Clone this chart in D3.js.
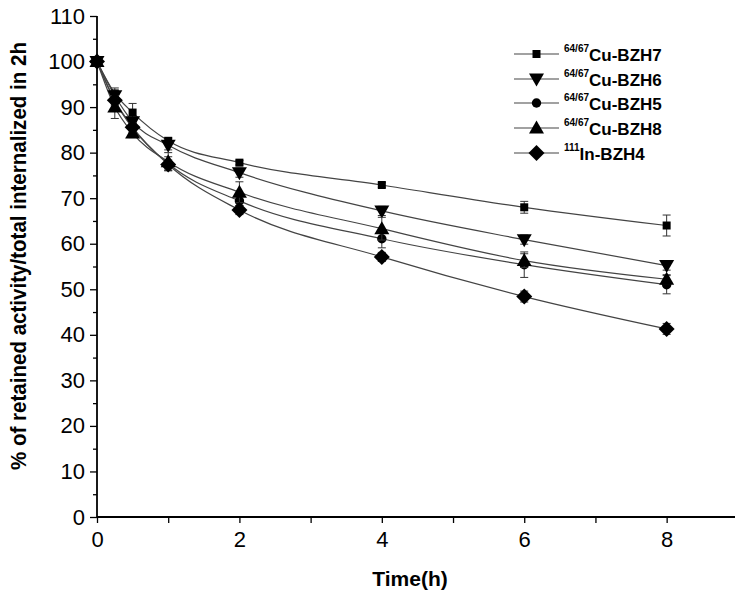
<!DOCTYPE html>
<html>
<head>
<meta charset="utf-8">
<script src="https://cdn.jsdelivr.net/npm/d3@7/dist/d3.min.js"></script>
<style>
  html, body { margin: 0; padding: 0; background: #fff; }
  svg { display: block; }
  text { font-family: "Liberation Sans", Arial, sans-serif; fill: #000; }
</style>
</head>
<body>
<svg id="chart" width="738" height="598"></svg>
<script>
const times = [0, 0.25, 0.5, 1, 2, 4, 6, 8];
const seriesNames = ["Cu-BZH7", "Cu-BZH6", "Cu-BZH5", "Cu-BZH8", "In-BZH4"];
const seriesSup = ["64/67", "64/67", "64/67", "64/67", "111"];
const seriesMarkers = ["square", "triangleDown", "circle", "triangleUp", "diamond"];
const bzh7 = [100, 93.0, 88.8, 82.6, 77.8, 72.9, 68.0, 64.0];
const bzh6 = [100, 92.5, 86.8, 81.6, 75.6, 67.2, 60.9, 55.2];
const bzh5 = [100, 91.3, 85.4, 77.6, 69.4, 61.1, 55.4, 51.0];
const bzh8 = [100, 90.0, 84.3, 78.0, 71.3, 63.3, 56.3, 52.2];
const bzh4 = [100, 91.5, 85.6, 77.4, 67.4, 57.1, 48.4, 41.3];
const bzh7Err = [0, 1.2, 2.0, 0.6, 0.5, 0.5, 1.3, 2.3];
const bzh6Err = [0, 1.0, 1.0, 1.0, 1.0, 1.0, 1.0, 1.0];
const bzh5Err = [0, 1.0, 1.0, 1.5, 1.0, 2.0, 2.8, 2.0];
const bzh8Err = [0, 2.5, 1.0, 2.0, 2.3, 2.5, 1.5, 1.0];
const bzh4Err = [0, 1.0, 1.0, 1.0, 1.0, 1.0, 1.2, 1.2];
const xTicks = [0, 2, 4, 6, 8];
const xMinorTicks = [1, 3, 5, 7];
const yTicks = [0, 10, 20, 30, 40, 50, 60, 70, 80, 90, 100, 110];
const yMinorTicks = [5, 15, 25, 35, 45, 55, 65, 75, 85, 95, 105];
const xLabel = "Time(h)";
const yLabel = "% of retained activity/total internalized in 2h";

const values = [bzh7, bzh6, bzh5, bzh8, bzh4];
const errors = [bzh7Err, bzh6Err, bzh5Err, bzh8Err, bzh4Err];

const svg = d3.select("#chart");
const x = d3.scaleLinear().domain([0, 8.96]).range([97, 735]);
const y = d3.scaleLinear().domain([0, 110]).range([517, 16]);

// axes
const xAxis = svg.append("g").attr("transform", `translate(0,${y(0)})`)
  .call(d3.axisBottom(x).tickValues(xTicks).tickSize(6).tickPadding(8).tickFormat(d3.format("d")));
const xMinor = svg.append("g").attr("transform", `translate(0,${y(0)})`)
  .call(d3.axisBottom(x).tickValues(xMinorTicks).tickSize(6).tickFormat(""));
const yAxis = svg.append("g").attr("transform", `translate(${x(0)},0)`)
  .call(d3.axisLeft(y).tickValues(yTicks).tickSize(7).tickPadding(5).tickFormat(d3.format("d")));
const yMinor = svg.append("g").attr("transform", `translate(${x(0)},0)`)
  .call(d3.axisLeft(y).tickValues(yMinorTicks).tickSize(4).tickFormat(""));
xMinor.select(".domain").remove();
yMinor.select(".domain").remove();
xAxis.select(".domain").attr("d", `M${x(0)},0H735`).attr("stroke", "#000").attr("stroke-width", 1.8);
yAxis.select(".domain").attr("d", `M0,${y(0)}V${y(110)}`).attr("stroke", "#000").attr("stroke-width", 1.8);
xAxis.attr("font-size", 22);
yAxis.attr("font-size", 22);
svg.selectAll(".tick line").attr("stroke", "#000").attr("stroke-width", 1.3);
svg.selectAll(".tick text").style("font-size", "22px").attr("font-family", "'Liberation Sans', Arial, sans-serif");

// axis labels
svg.append("text").attr("x", 410).attr("y", 586).attr("text-anchor", "middle")
  .attr("font-size", 21).attr("font-weight", "bold").text(xLabel);
svg.append("text").attr("transform", `translate(26,256) rotate(-90)`).attr("text-anchor", "middle")
  .attr("font-size", 22).attr("font-weight", "bold")
  .attr("textLength", 428).attr("lengthAdjust", "spacingAndGlyphs").text(yLabel);

// marker shapes
function markerPath(type) {
  switch (type) {
    case "square": return d3.symbol().type(d3.symbolSquare).size(64)();
    case "circle": return d3.symbol().type(d3.symbolCircle).size(70)();
    case "triangleUp": return "M0,-7.5L7.5,5.5L-7.5,5.5Z";
    case "triangleDown": return "M0,7.5L7.5,-5.5L-7.5,-5.5Z";
    case "diamond": return "M0,-8L8,0L0,8L-8,0Z";
  }
}

const line = d3.line().x(d => x(d[0])).y(d => y(d[1])).curve(d3.curveMonotoneX);

values.forEach((vals, i) => {
  const pts = times.map((t, j) => [t, vals[j]]);
  svg.append("path").attr("d", line(pts)).attr("fill", "none")
    .attr("stroke", "#444").attr("stroke-width", 1.2);
});

values.forEach((vals, i) => {
  const g = svg.append("g");
  times.forEach((t, j) => {
    const e = errors[i][j];
    if (e > 0) {
      const cx = x(t), y1 = y(vals[j] + e), y2 = y(vals[j] - e);
      g.append("line").attr("x1", cx).attr("x2", cx).attr("y1", y1).attr("y2", y2)
        .attr("stroke", "#333").attr("stroke-width", 1);
      [y1, y2].forEach(yy => g.append("line").attr("x1", cx - 4).attr("x2", cx + 4)
        .attr("y1", yy).attr("y2", yy).attr("stroke", "#333").attr("stroke-width", 1));
    }
    g.append("path").attr("d", markerPath(seriesMarkers[i]))
      .attr("transform", `translate(${x(t)},${y(vals[j])})`).attr("fill", "#000");
  });
});

// legend
const legendY = [54, 79, 103, 128, 153];
seriesNames.forEach((name, i) => {
  const g = svg.append("g").attr("transform", `translate(0,${legendY[i]})`);
  g.append("line").attr("x1", 514).attr("x2", 559).attr("y1", 0).attr("y2", 0)
    .attr("stroke", "#444").attr("stroke-width", 1.2);
  g.append("path").attr("d", markerPath(seriesMarkers[i]))
    .attr("transform", "translate(536.5,0)").attr("fill", "#000");
  const t = g.append("text").attr("x", 564).attr("y", 7).attr("font-weight", "bold");
  t.append("tspan").attr("font-size", 10).attr("dy", -9).text(seriesSup[i]);
  t.append("tspan").attr("font-size", 17).attr("dy", 9).text(name);
});
</script>
</body>
</html>
